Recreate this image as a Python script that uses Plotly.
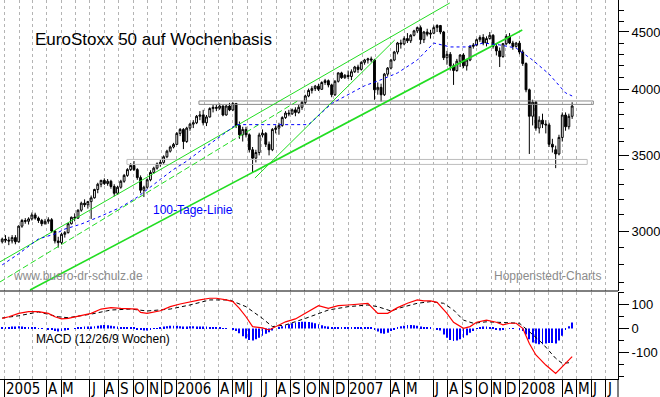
import math
import pandas as pd
import plotly.graph_objects as go

# ---------------- data (weekly EuroStoxx 50) ----------------
start_week = "2004-12-27"

open_ = [2935, 2951, 2945, 2940, 2960, 2935, 3030, 3065, 3060, 3075,
         3100, 3080, 3065, 3045, 3060, 3070, 3000, 2940, 2930, 2980,
         2990, 3045, 3085, 3080, 3130, 3175, 3165, 3185, 3210, 3265,
         3300, 3326, 3305, 3320, 3285, 3240, 3280, 3320, 3360, 3400,
         3429, 3400, 3345, 3260, 3280, 3330, 3380, 3410, 3440, 3450,
         3490, 3530, 3560, 3579, 3660, 3690, 3600, 3700, 3730, 3740,
         3790, 3800, 3740, 3785, 3850, 3860, 3853, 3870, 3800, 3870,
         3839, 3890, 3720, 3650, 3690, 3650, 3540, 3480, 3520, 3648,
         3660, 3580, 3540, 3690, 3700, 3720, 3780, 3815, 3809, 3840,
         3820, 3860, 3899, 3950, 3995, 4010, 4030, 4004, 4060, 4075,
         4040, 3960, 4070, 4140, 4100, 4120, 4110, 4150, 4190, 4170,
         4230, 4250, 4260, 4250, 4000, 4020, 3960, 4130, 4181, 4250,
         4320, 4400, 4392, 4440, 4420, 4470, 4510, 4540, 4430, 4500,
         4480, 4489, 4540, 4560, 4500, 4270, 4300, 4200, 4160, 4240,
         4294, 4200, 4250, 4370, 4381, 4430, 4450, 4400, 4440, 4470,
         4370, 4330, 4280, 4394, 4460, 4400, 4370, 4399, 4320, 4220,
         4000, 3790, 3900, 3700, 3760, 3730, 3724, 3580, 3540, 3510,
         3630, 3800, 3710, 3790]
high = [2960, 2975, 2965, 2975, 2975, 3035, 3075, 3080, 3085, 3115,
        3114, 3090, 3075, 3075, 3085, 3080, 3005, 2965, 2990, 3000,
        3050, 3090, 3110, 3135, 3185, 3200, 3190, 3225, 3270, 3310,
        3330, 3340, 3335, 3330, 3300, 3290, 3330, 3370, 3410, 3445,
        3460, 3410, 3360, 3290, 3340, 3395, 3420, 3450, 3470, 3500,
        3540, 3570, 3590, 3670, 3700, 3700, 3710, 3740, 3760, 3800,
        3830, 3840, 3800, 3860, 3880, 3880, 3890, 3875, 3880, 3895,
        3900, 3895, 3750, 3710, 3710, 3660, 3560, 3540, 3665, 3690,
        3670, 3600, 3700, 3720, 3740, 3790, 3830, 3840, 3850, 3860,
        3880, 3910, 3960, 4010, 4030, 4040, 4050, 4070, 4090, 4085,
        4050, 4080, 4145, 4150, 4130, 4160, 4170, 4200, 4210, 4240,
        4260, 4270, 4280, 4260, 4060, 4050, 4140, 4190, 4260, 4330,
        4410, 4430, 4460, 4490, 4480, 4520, 4550, 4560, 4510, 4530,
        4520, 4560, 4572, 4565, 4510, 4330, 4320, 4220, 4260, 4300,
        4310, 4260, 4380, 4400, 4440, 4470, 4480, 4460, 4500, 4480,
        4400, 4360, 4400, 4480, 4490, 4420, 4410, 4420, 4340, 4230,
        4010, 3920, 3910, 3790, 3810, 3760, 3740, 3620, 3570, 3650,
        3820, 3820, 3810, 3900]
low = [2925, 2930, 2915, 2925, 2920, 2930, 3020, 3045, 3040, 3065,
       3070, 3050, 3030, 3040, 3045, 2990, 2925, 2900, 2920, 2960,
       2985, 3040, 3060, 3075, 3120, 3150, 3140, 3075, 3205, 3240,
       3280, 3295, 3290, 3270, 3220, 3230, 3270, 3310, 3350, 3390,
       3390, 3330, 3240, 3215, 3270, 3320, 3370, 3400, 3420, 3440,
       3480, 3520, 3550, 3575, 3640, 3545, 3590, 3680, 3700, 3730,
       3760, 3720, 3715, 3780, 3820, 3830, 3840, 3790, 3795, 3830,
       3830, 3700, 3620, 3600, 3630, 3520, 3380, 3450, 3500, 3630,
       3560, 3500, 3530, 3660, 3650, 3710, 3770, 3790, 3800, 3790,
       3810, 3840, 3880, 3940, 3970, 3990, 3990, 4000, 4040, 4020,
       3940, 3950, 4060, 4090, 4090, 4090, 4080, 4140, 4140, 4160,
       4210, 4220, 4230, 3920, 3960, 3906, 3950, 4110, 4170, 4240,
       4300, 4350, 4380, 4400, 4400, 4460, 4490, 4390, 4400, 4460,
       4440, 4480, 4500, 4480, 4250, 4210, 4160, 4040, 4150, 4190,
       4180, 4160, 4240, 4350, 4370, 4410, 4380, 4370, 4430, 4350,
       4290, 4190, 4270, 4380, 4390, 4340, 4360, 4300, 4200, 3980,
       3510, 3720, 3680, 3660, 3700, 3660, 3560, 3520, 3410, 3500,
       3600, 3680, 3690, 3770]
close = [2951, 2945, 2940, 2960, 2935, 3030, 3065, 3060, 3075, 3100,
         3080, 3065, 3045, 3060, 3070, 3000, 2940, 2930, 2980, 2990,
         3045, 3085, 3080, 3130, 3175, 3165, 3185, 3210, 3265, 3300,
         3326, 3305, 3320, 3285, 3240, 3280, 3320, 3360, 3400, 3429,
         3400, 3345, 3260, 3280, 3330, 3380, 3410, 3440, 3450, 3490,
         3530, 3560, 3579, 3660, 3690, 3600, 3700, 3730, 3740, 3790,
         3800, 3740, 3785, 3850, 3860, 3853, 3870, 3800, 3870, 3839,
         3890, 3720, 3650, 3690, 3650, 3540, 3480, 3520, 3648, 3660,
         3580, 3540, 3690, 3700, 3720, 3780, 3815, 3809, 3840, 3820,
         3860, 3899, 3950, 3995, 4010, 4030, 4004, 4060, 4075, 4040,
         3960, 4070, 4140, 4100, 4120, 4110, 4150, 4190, 4170, 4230,
         4250, 4260, 4250, 4000, 4020, 3960, 4130, 4181, 4250, 4320,
         4400, 4392, 4440, 4420, 4470, 4510, 4540, 4430, 4500, 4480,
         4489, 4540, 4560, 4500, 4270, 4300, 4200, 4160, 4240, 4294,
         4200, 4250, 4370, 4381, 4430, 4450, 4400, 4440, 4470, 4370,
         4330, 4280, 4394, 4460, 4400, 4370, 4399, 4320, 4220, 4000,
         3790, 3900, 3700, 3760, 3730, 3724, 3580, 3560, 3510, 3630,
         3800, 3710, 3790, 3870]

# 100-Tage-Linie (read at intervals)
ma_dates = ["2004-12-27", "2005-01-31", "2005-03-14", "2005-04-18", "2005-05-09", "2005-06-13",
            "2005-07-25", "2005-09-05", "2005-10-10", "2005-10-31", "2005-11-28", "2005-12-26",
            "2006-01-23", "2006-02-20", "2006-03-27", "2006-04-24", "2006-05-08", "2006-10-09",
            "2006-11-27", "2007-01-01", "2007-02-05", "2007-03-12", "2007-04-16", "2007-05-28",
            "2007-07-02", "2007-08-06", "2007-09-10", "2007-10-15", "2007-11-19", "2007-12-24",
            "2008-01-28", "2008-03-03", "2008-04-07", "2008-04-21"]
ma_vals = [2800, 2864, 2952, 2982, 3012, 3043, 3093, 3149, 3214, 3266, 3333, 3401,
           3459, 3530, 3614, 3688, 3726, 3726, 3890, 3960, 4033, 4083, 4140, 4250,
           4400, 4365, 4365, 4400, 4383, 4355, 4250, 4130, 3975, 3950]

# MACD line (read at intervals)
macd_dates = ["2004-12-27", "2005-01-10", "2005-01-31", "2005-02-21", "2005-03-14", "2005-04-04",
              "2005-04-18", "2005-05-02", "2005-05-16", "2005-06-13", "2005-07-04", "2005-07-25",
              "2005-08-15", "2005-09-05", "2005-09-26", "2005-10-10", "2005-10-17", "2005-10-31",
              "2005-11-28", "2005-12-19", "2006-01-09", "2006-01-30", "2006-02-20", "2006-03-13",
              "2006-03-27", "2006-04-17", "2006-05-01", "2006-05-15", "2006-05-29", "2006-06-12",
              "2006-07-03", "2006-07-17", "2006-07-31", "2006-08-21", "2006-09-11", "2006-10-02",
              "2006-10-16", "2006-10-30", "2006-11-20", "2006-12-11", "2007-01-01", "2007-01-22",
              "2007-02-12", "2007-03-05", "2007-03-26", "2007-04-16", "2007-05-07", "2007-05-28",
              "2007-06-11", "2007-06-25", "2007-07-09", "2007-07-30", "2007-08-13", "2007-09-03",
              "2007-09-17", "2007-10-01", "2007-10-22", "2007-11-12", "2007-11-26", "2007-12-10",
              "2007-12-24", "2008-01-07", "2008-01-21", "2008-02-04", "2008-02-25", "2008-03-17",
              "2008-03-31", "2008-04-21"]
macd_vals = [42, 49, 63, 70, 70, 63, 49, 40, 42, 53, 63, 81,
             87, 84, 84, 81, 67, 63, 74, 91, 102, 112, 119, 126,
             126, 119, 112, 84, 49, 8, 3, -6, 8, 28, 40, 63,
             81, 95, 84, 95, 98, 101, 105, 63, 63, 87, 105, 119,
             115, 115, 109, 63, 26, 1, 8, 26, 35, 26, 15, 22,
             22, 1, -62, -110, -152, -187, -159, -117]

# Signal line (read at intervals)
signal_dates = ["2004-12-27", "2005-01-31", "2005-03-14", "2005-04-25", "2005-05-16", "2005-07-04",
                "2005-08-15", "2005-09-26", "2005-10-31", "2005-12-19", "2006-01-30", "2006-03-13",
                "2006-04-24", "2006-05-29", "2006-07-03", "2006-07-24", "2006-08-21", "2006-10-02",
                "2006-11-20", "2007-01-01", "2007-02-12", "2007-03-05", "2007-04-02", "2007-04-23",
                "2007-05-28", "2007-06-25", "2007-07-23", "2007-08-13", "2007-09-03", "2007-09-24",
                "2007-10-22", "2007-11-12", "2007-12-10", "2007-12-31", "2008-01-21", "2008-02-18",
                "2008-03-17", "2008-03-31", "2008-04-21"]
signal_vals = [44, 53, 69, 49, 45, 60, 77, 81, 73, 81, 98, 119,
               119, 91, 42, 8, 15, 42, 77, 91, 98, 91, 73, 87,
               105, 112, 105, 77, 35, 22, 28, 26, 22, 22, -13, -62,
               -124, -145, -141]

# MACD histogram (weekly)
hist = [5, 5, 6, 8, 8, 10, 8, 6, 5, 4, 3, 2, 1, 0,
        -3, -6, -10, -12, -10, -8, -4,
        0, 2, 4, 6, 8, 8, 8, 10, 12, 14, 15, 14, 12, 10, 8, 6, 5, 4, 4, 3,
        -2, -6, -8, -8, -5,
        -1, 2, 5, 8, 10, 12, 12, 12, 10, 8, 8, 10, 10, 8, 8,
        8, 8, 6, 5, 4, 3, 2, 1, 0, -2,
        -10, -20, -32, -42, -48, -50, -45, -38, -30, -22, -15, -8,
        0, 5, 10, 14, 18, 22, 25, 27, 28, 28, 27, 25, 22, 18, 14, 10, 8,
        6, 5, 5, 4, 4, 4, 4, 5, 5, 5, 5, 5, 4,
        -5, -12, -20, -22, -18, -10, -3,
        5, 10, 12, 15, 15, 14, 12, 8, 4, 3, 3,
        0, -3, -8,
        -25, -38, -48, -52, -50, -45, -38, -28, -18, -10,
        2, 6, 8, 8, 6, 3,
        -4, -8, -4,
        0, 1, 1, 0, -2,
        -10, -25, -45, -58, -62, -65, -65, -62, -60, -60, -62, -50, -30, -5, 10, 25]

# Trend lines (start date, start value, end date, end value)
trend_start_dates = ["2005-02-24", "2004-12-22", "2004-12-22", "2006-06-17"]
trend_start_vals = [2660, 2817, 2704, 3342]
trend_end_dates = ["2008-01-06", "2007-08-05", "2006-09-20", "2007-04-10"]
trend_end_vals = [4518, 4774, 3920, 4427]
trend_widths = [1.6, 1, 1, 1]
trend_dash = ["solid", "solid", "6px,3px", "solid"]

# Horizontal resistance / support bands
band_start = ["2006-02-18", "2005-09-18"]
band_end = ["2008-06-05", "2008-05-23"]
band_low = [3883, 3436]
band_high = [3910, 3471]
band_colors = ["#8a8a8a", "#bdbdbd"]

# x-axis month labels
month_label_dates = ["2005-01-01", "2005-04-01", "2005-05-01", "2005-07-01", "2005-08-01", "2005-09-01",
                     "2005-10-01", "2005-11-01", "2005-12-01",
                     "2006-01-01", "2006-04-01", "2006-05-01", "2006-06-01", "2006-07-01", "2006-08-01",
                     "2006-09-01", "2006-10-01", "2006-11-01", "2006-12-01",
                     "2007-01-01", "2007-04-01", "2007-05-01", "2007-07-01", "2007-08-01", "2007-09-01",
                     "2007-10-01", "2007-11-01", "2007-12-01",
                     "2008-01-01", "2008-04-01", "2008-05-01", "2008-06-01", "2008-07-01"]
month_labels = ["2005", "A", "M", "J", "A", "S", "O", "N", "D",
                "2006", "A", "M", "J", "J", "A", "S", "O", "N", "D",
                "2007", "A", "M", "J", "A", "S", "O", "N", "D",
                "2008", "A", "M", "J", "J"]

price_ticks = [3000, 3500, 4000, 4500]
price_minor = [2700, 2800, 2900, 3100, 3200, 3300, 3400, 3600, 3700, 3800, 3900,
               4100, 4200, 4300, 4400, 4600, 4700]
macd_ticks = [-100, 0, 100]
macd_minor = [-200, -150, -50, 50, 150]

assert len(open_) == len(high) == len(low) == len(close) == len(hist)
weeks = pd.date_range(start_week, periods=len(close), freq="7D")

# ---------------- figure ----------------
FONT = "Liberation Sans, Arial, sans-serif"
NARROW = "Liberation Sans Narrow, Arial Narrow, DejaVu Sans Condensed, sans-serif"
PLOT_H = 397 - 18
price_bottom = 1 - 291 / PLOT_H
macd_top = 1 - 292 / PLOT_H

fig = go.Figure()

for s, e, lo, hi, c in zip(band_start, band_end, band_low, band_high, band_colors):
    fig.add_trace(go.Scatter(x=[s, e, e, s, s], y=[lo, lo, hi, hi, lo], mode="lines",
                             line=dict(color=c, width=1), hoverinfo="skip", yaxis="y"))

for sd, sv, ed, ev, w, d in zip(trend_start_dates, trend_start_vals, trend_end_dates,
                                trend_end_vals, trend_widths, trend_dash):
    fig.add_trace(go.Scatter(x=[sd, ed], y=[sv, ev], mode="lines",
                             line=dict(color="#22dd22", width=w, dash=d), yaxis="y"))

fig.add_trace(go.Scatter(x=ma_dates, y=ma_vals, mode="lines",
                         line=dict(color="#0000ff", width=1, dash="3px,3px"), yaxis="y"))

fig.add_trace(go.Candlestick(
    x=weeks, open=open_, high=high, low=low, close=close, yaxis="y",
    increasing=dict(line=dict(color="black", width=1), fillcolor="white"),
    decreasing=dict(line=dict(color="black", width=1), fillcolor="black"),
    whiskerwidth=0))

fig.add_trace(go.Bar(x=weeks, y=hist, yaxis="y2", width=1.8 * 86400000,
                     marker=dict(color="#0000ff", line=dict(width=0))))
fig.add_trace(go.Scatter(x=signal_dates, y=signal_vals, mode="lines", yaxis="y2",
                         line=dict(color="black", width=1, dash="4px,3px")))
fig.add_trace(go.Scatter(x=macd_dates, y=macd_vals, mode="lines", yaxis="y2",
                         line=dict(color="#ff0000", width=1.2)))

grid = dict(showgrid=True, gridcolor="#b4b4b4", griddash="3px,3px", gridwidth=1)
fig.update_layout(
    width=660, height=397, autosize=False,
    margin=dict(l=0, r=42, t=0, b=18, pad=0),
    paper_bgcolor="white", plot_bgcolor="white", showlegend=False,
    font=dict(family=FONT, size=13, color="black"),
    boxgap=0.2,
    xaxis=dict(type="date", range=["2004-12-22 07:00", "2008-07-27 10:00"], anchor="y2",
               showline=True, linecolor="black", linewidth=1,
               ticks="outside", ticklen=18, tickcolor="black", tickwidth=1,
               tickvals=month_label_dates, showticklabels=False, zeroline=False,
               minor=dict(dtick="M1", tick0="2005-01-01", **grid),
               rangeslider=dict(visible=False), **grid),
    yaxis=dict(domain=[price_bottom, 1], type="log",
               range=[math.log10(2655), math.log10(4803)], side="right", anchor="x",
               showline=True, linecolor="black", linewidth=1, showgrid=False, zeroline=False,
               ticks="outside", ticklen=10, tickcolor="black", tickvals=price_ticks,
               ticktext=[str(v) for v in price_ticks],
               minor=dict(ticks="outside", ticklen=5, tickcolor="black", tickvals=price_minor,
                          showgrid=False)),
    yaxis2=dict(domain=[0, macd_top], range=[-210, 152], side="right", anchor="x",
                showline=True, linecolor="black", linewidth=1, showgrid=False, zeroline=False,
                ticks="outside", ticklen=10, tickcolor="black", tickvals=macd_ticks,
                ticktext=[str(v) for v in macd_ticks],
                minor=dict(ticks="outside", ticklen=5, tickcolor="black", tickvals=macd_minor,
                           showgrid=False)),
)

fig.add_shape(type="line", xref="paper", yref="paper", x0=0, x1=1, y0=price_bottom, y1=price_bottom,
              line=dict(color="black", width=1))
fig.add_shape(type="line", xref="paper", yref="paper", x0=1, x1=1, y0=-18 / PLOT_H, y1=0,
              line=dict(color="black", width=1))

def txt(text, x, y, size, color, family=FONT, xanchor="left"):
    fig.add_annotation(text=text, x=x, y=y, xref="paper", yref="paper", showarrow=False,
                       xanchor=xanchor, yanchor="middle", font=dict(family=family, size=size, color=color))

txt("EuroStoxx 50 auf Wochenbasis", 33 / 618, 1 - 39 / PLOT_H, 17, "black")
txt("100-Tage-Linie", 151 / 618, 1 - 210 / PLOT_H, 12, "#0000ff")
txt("www.buero-dr-schulz.de", 11 / 618, 1 - 276 / PLOT_H, 12, "#8c8c8c")
txt("Hoppenstedt-Charts", 492 / 618, 1 - 276 / PLOT_H, 12, "#8c8c8c")
txt("MACD (12/26/9 Wochen)", 34 / 618, 1 - 339 / PLOT_H, 12, "black")

for d, lab in zip(month_label_dates, month_labels):
    fig.add_annotation(text=lab, x=d, xref="x", y=0, yref="paper", yanchor="top", xanchor="left",
                       xshift=0, yshift=0, showarrow=False, borderpad=0,
                       font=dict(family=NARROW, size=15, color="black"))

fig.write_html("out.html", config={"displayModeBar": False},
               post_script="document.body.style.margin='0';document.body.style.padding='0';"
                           "document.body.style.overflow='hidden';")
